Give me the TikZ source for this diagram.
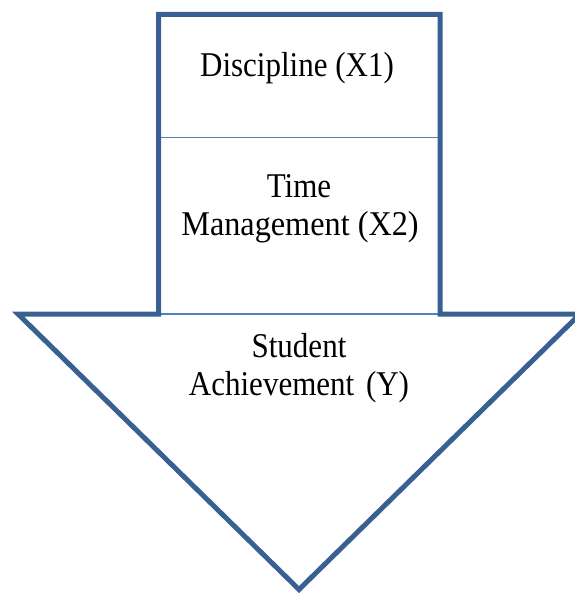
\documentclass[tikz,border=0pt]{standalone}
\usepackage{fontspec}
\setmainfont{Liberation Serif}
\definecolor{outlineblue}{RGB}{56,96,146}
\definecolor{thinblue}{RGB}{79,129,189}
\newcommand{\tallbox}[2][1]{\scalebox{#1}[1.12]{#2}}
\tikzset{
  outline/.style={draw=outlineblue, line width=5pt, line join=miter},
  divider/.style={draw=thinblue, line width=1.8pt},
  label/.style={anchor=base, font=\fontsize{31}{37}\selectfont, inner sep=0pt, text=black}
}
\begin{document}
\begin{tikzpicture}[x=1pt, y=-1pt]
\useasboundingbox (0,0) rectangle (574,593);
\coordinate (sl) at (158.5,137.5);
\coordinate (sr) at (440,137.5);
\coordinate (bl) at (158.5,314);
\coordinate (br) at (440,314);
\draw[divider] (sl) -- (sr);
\draw[divider] (bl) -- (br);
\draw[outline] (158.5,14.5) -- (440,14.5) -- (440,314) -- (580,314) -- (299,589.5) -- (18,314) -- (158.5,314) -- cycle;
\node[label] (x1) at (297,76.5) {\tallbox{Discipline (X1)}};
\node[label] (x2a) at (299,198) {\tallbox{Time}};
\node[label] (x2b) at (300,235.5) {\tallbox[1.04]{Management (X2)}};
\node[label] (ya) at (299,357.5) {\tallbox{Student}};
\node[label] (yb) at (299,395) {\tallbox{Achievement\hspace{4pt} (Y)}};
\end{tikzpicture}
\end{document}
